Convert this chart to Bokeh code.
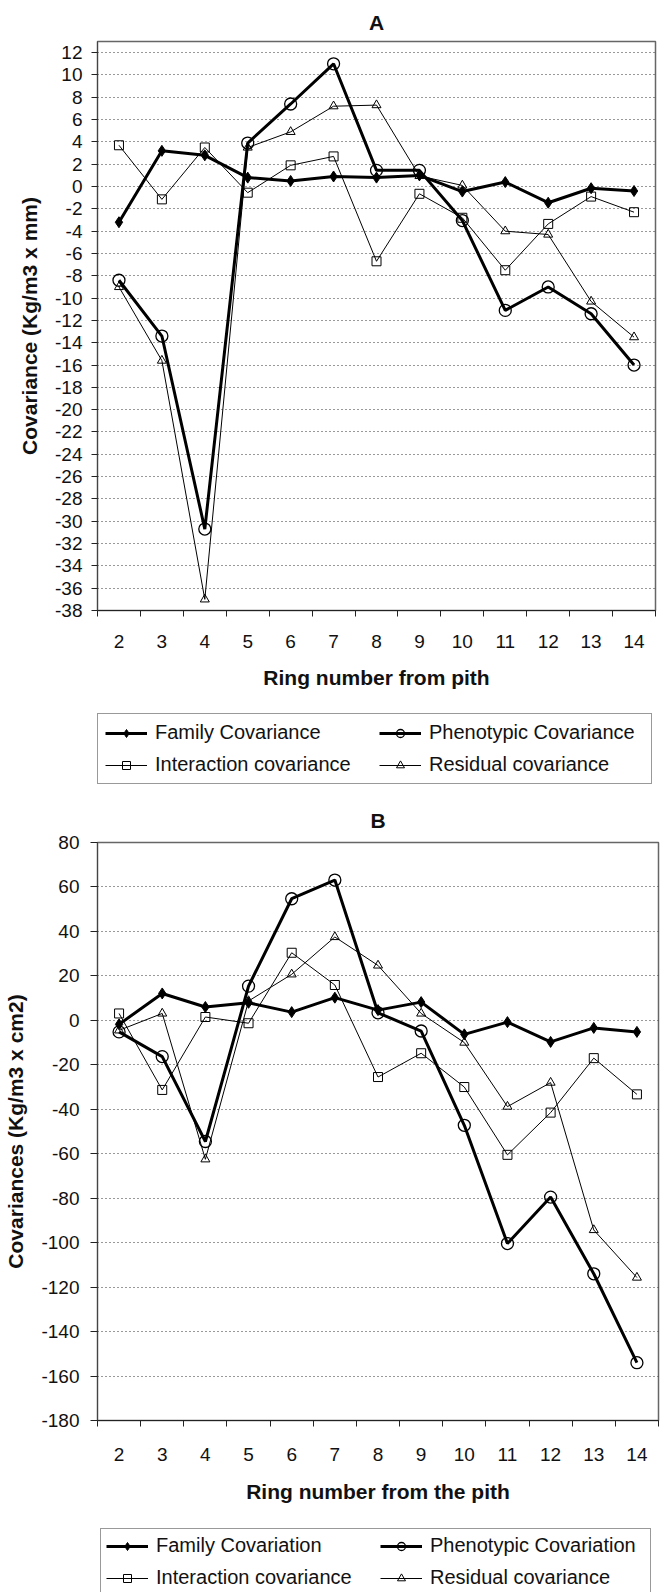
from bokeh.plotting import figure
from bokeh.models import Legend, LegendItem, FixedTicker, Range1d
from bokeh.layouts import column
from bokeh.embed import file_html
from bokeh.resources import INLINE

# ---------------- data ----------------
rings = [2, 3, 4, 5, 6, 7, 8, 9, 10, 11, 12, 13, 14]

a_family = [-3.2, 3.2, 2.8, 0.8, 0.5, 0.9, 0.8, 1.0, -0.45, 0.4, -1.45, -0.15, -0.4]
a_pheno = [-8.4, -13.4, -30.7, 3.9, 7.4, 11.0, 1.45, 1.45, -3.05, -11.1, -9.0, -11.4, -16.0]
a_inter = [3.7, -1.15, 3.5, -0.55, 1.9, 2.7, -6.7, -0.65, -2.8, -7.5, -3.35, -0.9, -2.3]
a_resid = [-9.0, -15.6, -37.0, 3.5, 4.9, 7.2, 7.3, 0.95, 0.1, -4.0, -4.3, -10.3, -13.5]
a_labels = ["Family Covariance", "Phenotypic Covariance",
            "Interaction covariance", "Residual covariance"]
a_yticks = list(range(-38, 13, 2))

b_family = [-1.8, 12.1, 6.0, 7.9, 3.7, 10.2, 4.6, 8.2, -6.3, -0.8, -9.7, -3.4, -5.2]
b_pheno = [-5.2, -16.3, -54.5, 15.4, 54.7, 63.1, 3.4, -4.8, -47.2, -100.4, -79.5, -114.0, -154.0]
b_inter = [3.1, -31.3, 1.5, -1.3, 30.4, 15.9, -25.5, -14.8, -30.0, -60.5, -41.5, -17.0, -33.3]
b_resid = [-4.5, 3.1, -62.5, 8.7, 20.7, 37.5, 24.7, 3.1, -10.0, -38.8, -28.0, -94.3, -115.7]
b_labels = ["Family Covariation", "Phenotypic Covariation",
            "Interaction covariance", "Residual covariance"]
b_yticks = list(range(-180, 81, 20))

FONT = "Liberation Sans"
INK = "#111111"
PAGE_W = 661

STYLES = [
    dict(marker="diamond", size=11, lw=3, fill=1.0, mlw=1),
    dict(marker="circle", size=12, lw=3, fill=0.0, mlw=1.3),
    dict(marker="square", size=9, lw=1, fill=0.0, mlw=1),
    dict(marker="triangle", size=9, lw=1, fill=0.0, mlw=1),
]


def add_series(p, xs, ys, st):
    lr = p.line(xs, ys, line_color="black", line_width=st["lw"])
    sr = p.scatter(xs, ys, marker=st["marker"], size=st["size"],
                   line_color="black", line_width=st["mlw"],
                   fill_color="black", fill_alpha=st["fill"])
    return [lr, sr]


def make_chart(title, ylab, xlab, ymin, ymax, yticks, series,
               left, fw, top_border, frame_h, bottom_border,
               title_standoff, tick_standoff, xlab_standoff,
               ytick_out, ytick_standoff, ylab_standoff):
    p = figure(frame_width=fw, frame_height=frame_h,
               x_range=Range1d(1.5, 14.5), y_range=Range1d(ymin, ymax),
               output_backend="svg", toolbar_location=None,
               min_border_left=left, min_border_right=PAGE_W - left - fw,
               min_border_top=top_border, min_border_bottom=bottom_border,
               background_fill_color="white", border_fill_color="white")
    p.title.text = title
    p.title.align = "center"
    p.title.text_font = FONT
    p.title.text_font_size = "21px"
    p.title.text_font_style = "bold"
    p.title.text_color = INK
    p.title.standoff = title_standoff

    p.outline_line_color = "#666666"
    p.outline_line_width = 1.5

    # x axis: labels at ring centres, tick marks at category boundaries
    xa = p.xaxis[0]
    xa.ticker = FixedTicker(ticks=rings, minor_ticks=[r - 0.5 for r in rings] + [rings[-1] + 0.5])
    xa.major_tick_out = 0
    xa.major_tick_in = 0
    xa.minor_tick_out = 6
    xa.minor_tick_in = 0
    xa.major_label_standoff = tick_standoff
    xa.axis_label = xlab
    xa.axis_label_standoff = xlab_standoff
    xa.axis_label_text_font = FONT
    xa.axis_label_text_font_size = "21px"
    xa.axis_label_text_font_style = "bold"
    xa.axis_label_text_color = INK
    xa.major_label_text_font = FONT
    xa.major_label_text_font_size = "19px"
    xa.major_label_text_color = INK
    xa.axis_line_color = "#222222"
    xa.minor_tick_line_color = "#222222"

    ya = p.yaxis[0]
    ya.ticker = FixedTicker(ticks=yticks, minor_ticks=[])
    ya.major_label_overrides = {t: str(t) for t in yticks}
    ya.major_tick_out = ytick_out
    ya.major_tick_in = 0
    ya.minor_tick_out = 0
    ya.minor_tick_in = 0
    ya.major_label_standoff = ytick_standoff
    ya.axis_label = ylab
    ya.axis_label_standoff = ylab_standoff
    ya.axis_label_text_font = FONT
    ya.axis_label_text_font_size = "21px"
    ya.axis_label_text_font_style = "bold"
    ya.axis_label_text_color = INK
    ya.major_label_text_font = FONT
    ya.major_label_text_font_size = "19px"
    ya.major_label_text_color = INK
    ya.axis_line_color = "#444444"
    ya.major_tick_line_color = "#222222"

    p.xgrid.visible = False
    p.ygrid.ticker = FixedTicker(ticks=yticks, minor_ticks=[])
    p.ygrid.grid_line_color = "#333333"
    p.ygrid.grid_line_dash = "1 3"
    p.ygrid.grid_line_width = 1

    for vals, st in zip(series, STYLES):
        add_series(p, rings, vals, st)
    return p


def make_legend(labels, series, height, lx, ly, padding):
    """Legend strip under a chart; the series are re-plotted off-view as legend keys."""
    q = figure(frame_width=PAGE_W, frame_height=height,
               x_range=Range1d(100, 101), y_range=Range1d(1000, 1001),
               x_axis_location=None, y_axis_location=None,
               output_backend="svg", toolbar_location=None,
               min_border=0, outline_line_color=None,
               background_fill_color="white", border_fill_color="white")
    q.grid.visible = False
    rend = [add_series(q, rings, vals, st) for vals, st in zip(series, STYLES)]
    # legend is filled column by column: Family, Interaction | Phenotypic, Residual
    order = [0, 2, 1, 3]
    items = [LegendItem(label=labels[i], renderers=rend[i]) for i in order]
    legend = Legend(items=items, ncols=2, location=(lx, ly))
    legend.label_text_font = FONT
    legend.label_text_font_size = "20px"
    legend.label_text_color = INK
    legend.glyph_width = 42
    legend.glyph_height = 20
    legend.label_standoff = 8
    legend.label_width = 215
    legend.spacing = 9
    legend.padding = padding
    legend.margin = 0
    legend.border_line_color = "#333333"
    legend.border_line_width = 1.5
    legend.background_fill_color = "white"
    q.add_layout(legend, "center")
    return q


a_series = [a_family, a_pheno, a_inter, a_resid]
b_series = [b_family, b_pheno, b_inter, b_resid]

pA = make_chart("A", "Covariance (Kg/m3 x mm)", "Ring number from pith",
                -38, 13, a_yticks, a_series,
                95, 558, 39, 569, 92, 16, 18, 15, 6, 9, 11)
legA = make_legend(a_labels, a_series, 90, 97, 8, 7)
pB = make_chart("B", "Covariances (Kg/m3 x cm2)", "Ring number from the pith",
                -180, 80, b_yticks, b_series,
                97, 561, 50, 578, 82, 21, 21, 16, 7, 11, 11)
legB = make_legend(b_labels, b_series, 91, 100, 1, 5)

layout = column(pA, legA, pB, legB, spacing=0)
open("out.html", "w").write(file_html(layout, INLINE))
